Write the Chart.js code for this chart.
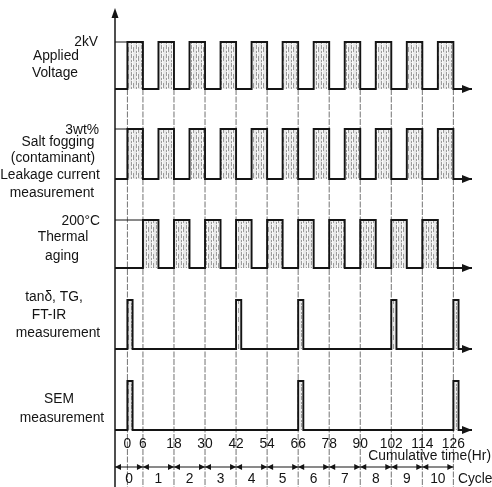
<!DOCTYPE html>
<html>
<head>
<meta charset="utf-8">
<script src="https://cdn.jsdelivr.net/npm/chart.js@4.4.1/dist/chart.umd.min.js"></script>
<style>
  html, body { margin: 0; padding: 0; background: #fff; }
  #wrap { width: 492px; height: 487px; position: relative; }
</style>
</head>
<body>
<div id="wrap"><canvas id="chart"></canvas></div>
<script>
// Test schedule on the cumulative time axis (hours): [start, end] of each "on" period
const voltageOn = [[0, 6], [12, 18], [24, 30], [36, 42], [48, 54], [60, 66], [72, 78], [84, 90], [96, 102], [108, 114], [120, 126]];
const saltOn = [[0, 6], [12, 18], [24, 30], [36, 42], [48, 54], [60, 66], [72, 78], [84, 90], [96, 102], [108, 114], [120, 126]];
const thermalOn = [[6, 12], [18, 24], [30, 36], [42, 48], [54, 60], [66, 72], [78, 84], [90, 96], [102, 108], [114, 120]];
const ftirOn = [[0, 2], [42, 44], [66, 68], [102, 104], [126, 128]];
const semOn = [[0, 2], [66, 68], [126, 128]];

// Axis ticks and cycle numbering
const timeTicks = [0, 6, 18, 30, 42, 54, 66, 78, 90, 102, 114, 126];
const cycleLabels = ['0', '1', '2', '3', '4', '5', '6', '7', '8', '9', '10'];
const cycleEnds = [6, 18, 30, 42, 54, 66, 78, 90, 102, 114, 126];

// Level names shown beside the axis
const levelTexts = ['2kV', '3wt%', '200\u00b0C'];

// ---- layout (drawing units: x in hours, y in px from the top) ----
const T_MIN = -4.8, T_MAX = 133.2, Y_MAX = 487;
const FONT = '13.8px "Liberation Sans", Arial, sans-serif';
const INK = '#141414';

const rows = [
  { on: voltageOn, base: 89,  top: 42,  marker: 0,
    level: { text: levelTexts[0], x: 98, y: 42 },
    labels: [['Applied', 56, 56], ['Voltage', 55, 73]] },
  { on: saltOn,    base: 179, top: 129, marker: 0,
    level: { text: levelTexts[1], x: 99, y: 130 },
    labels: [['Salt fogging', 58, 142], ['(contaminant)', 53, 158], ['Leakage current', 50, 175], ['measurement', 52, 193]] },
  { on: thermalOn, base: 268, top: 220, marker: 6,
    level: { text: levelTexts[2], x: 100, y: 221 },
    labels: [['Thermal', 63, 237], ['aging', 62, 256]] },
  { on: ftirOn,    base: 349, top: 300, marker: null, level: null,
    labels: [['tan\u03b4, TG,', 54, 297], ['FT-IR', 49, 315], ['measurement', 58, 333]] },
  { on: semOn,     base: 430, top: 381, marker: null, level: null,
    labels: [['SEM', 59, 399], ['measurement', 62, 418]] }
];

// Speckled texture used inside the "on" blocks
function stipple() {
  const c = document.createElement('canvas');
  c.width = 5; c.height = 9;
  const g = c.getContext('2d');
  g.fillStyle = '#e9e9e9'; g.fillRect(0, 0, 5, 9);
  g.fillStyle = '#9c9c9c';
  g.fillRect(1, 0, 1, 4); g.fillRect(1, 6, 1, 2);
  g.fillRect(3, 2, 1, 5);
  g.fillStyle = '#fbfbfb';
  g.fillRect(2, 0, 1, 9);
  return g.createPattern(c, 'repeat');
}
const texture = stipple();

// Square-wave outline of one row
function wave(on, base, top) {
  const pts = [{ x: T_MIN, y: base }];
  on.forEach(([a, b]) => {
    pts.push({ x: a, y: base }, { x: a, y: top }, { x: b, y: top }, { x: b, y: base });
  });
  pts.push({ x: T_MAX, y: base });
  return pts;
}

const datasets = [];
rows.forEach(r => {
  datasets.push({
    data: wave(r.on, r.base, r.top),
    borderColor: INK, borderWidth: 1.9, borderJoinStyle: 'miter',
    pointRadius: 0, tension: 0, clip: false, fill: false
  });
  if (r.marker !== null) {
    datasets.push({
      data: [{ x: T_MIN, y: r.top }, { x: r.marker, y: r.top }],
      borderColor: INK, borderWidth: 1, pointRadius: 0, fill: false, clip: false
    });
  }
});

function arrowHead(ctx, tipX, tipY, dir, len, half) {
  ctx.beginPath();
  if (dir === 'right' || dir === 'left') {
    const s = dir === 'right' ? -1 : 1;
    ctx.moveTo(tipX, tipY);
    ctx.lineTo(tipX + s * len, tipY - half);
    ctx.lineTo(tipX + s * len, tipY + half);
  } else {
    ctx.moveTo(tipX, tipY);
    ctx.lineTo(tipX - half, tipY + len);
    ctx.lineTo(tipX + half, tipY + len);
  }
  ctx.closePath();
  ctx.fill();
}

const schedulePlugin = {
  id: 'schedule',
  beforeDatasetsDraw(chart) {
    const { ctx, scales: { x, y } } = chart;
    ctx.save();
    // textured interior of every "on" block
    ctx.fillStyle = texture;
    rows.forEach(r => {
      const yt = y.getPixelForValue(r.top), yb = y.getPixelForValue(r.base);
      r.on.forEach(([a, b]) => {
        const xa = x.getPixelForValue(a), xb = x.getPixelForValue(b);
        ctx.fillRect(xa, yt, xb - xa, yb - yt);
      });
    });
    // dashed time guides
    ctx.strokeStyle = '#5a5a5a';
    ctx.lineWidth = 0.85;
    ctx.setLineDash([6, 1.5]);
    const yTop = y.getPixelForValue(rows[0].base), yBot = y.getPixelForValue(Y_MAX);
    timeTicks.forEach(t => {
      const px = x.getPixelForValue(t);
      ctx.beginPath(); ctx.moveTo(px, yTop); ctx.lineTo(px, yBot); ctx.stroke();
    });
    ctx.restore();
  },
  afterDatasetsDraw(chart) {
    const { ctx, scales: { x, y } } = chart;
    ctx.save();
    ctx.fillStyle = INK; ctx.strokeStyle = INK;

    // vertical axis with arrow
    const ax = x.getPixelForValue(T_MIN);
    ctx.lineWidth = 1.5;
    ctx.beginPath(); ctx.moveTo(ax, 14); ctx.lineTo(ax, y.getPixelForValue(Y_MAX)); ctx.stroke();
    arrowHead(ctx, ax, 8, 'up', 10, 3.5);

    // arrows at the end of each baseline
    const xr = x.getPixelForValue(T_MAX);
    rows.forEach(r => arrowHead(ctx, xr, y.getPixelForValue(r.base), 'right', 10, 4));

    // row labels and levels
    ctx.font = FONT;
    ctx.textBaseline = 'middle';
    rows.forEach(r => {
      ctx.textAlign = 'center';
      r.labels.forEach(([t, cx, cy]) => ctx.fillText(t, cx, cy));
      if (r.level) {
        ctx.textAlign = 'right';
        ctx.fillText(r.level.text, r.level.x, r.level.y);
      }
    });

    // time tick labels
    ctx.textAlign = 'center';
    timeTicks.forEach(t => ctx.fillText(String(t), x.getPixelForValue(t), 444));
    ctx.textAlign = 'right';
    ctx.fillText('Cumulative time(Hr)', 491, 456);

    // cycle spans
    const yc = 467;
    ctx.lineWidth = 1;
    cycleLabels.forEach((lab, i) => {
      const xa = x.getPixelForValue(i === 0 ? T_MIN : cycleEnds[i - 1]);
      const xb = x.getPixelForValue(cycleEnds[i]);
      ctx.beginPath(); ctx.moveTo(xa, yc); ctx.lineTo(xb, yc); ctx.stroke();
      arrowHead(ctx, xa, yc, 'left', 6, 3);
      arrowHead(ctx, xb, yc, 'right', 6, 3);
      ctx.textAlign = 'center';
      ctx.fillText(lab, (xa + xb) / 2, 479);
    });
    ctx.textAlign = 'left';
    ctx.fillText('Cycle', 458, 479);
    ctx.restore();
  }
};

new Chart(document.getElementById('chart'), {
  type: 'line',
  data: { datasets },
  options: {
    responsive: true,
    maintainAspectRatio: false,
    animation: false,
    events: [],
    layout: { padding: { left: 115, right: 20, top: 0, bottom: 0 } },
    plugins: { legend: { display: false }, tooltip: { enabled: false } },
    scales: {
      x: { type: 'linear', min: T_MIN, max: T_MAX, display: false },
      y: { type: 'linear', min: 0, max: Y_MAX, reverse: true, display: false }
    }
  },
  plugins: [schedulePlugin]
});
</script>
</body>
</html>
